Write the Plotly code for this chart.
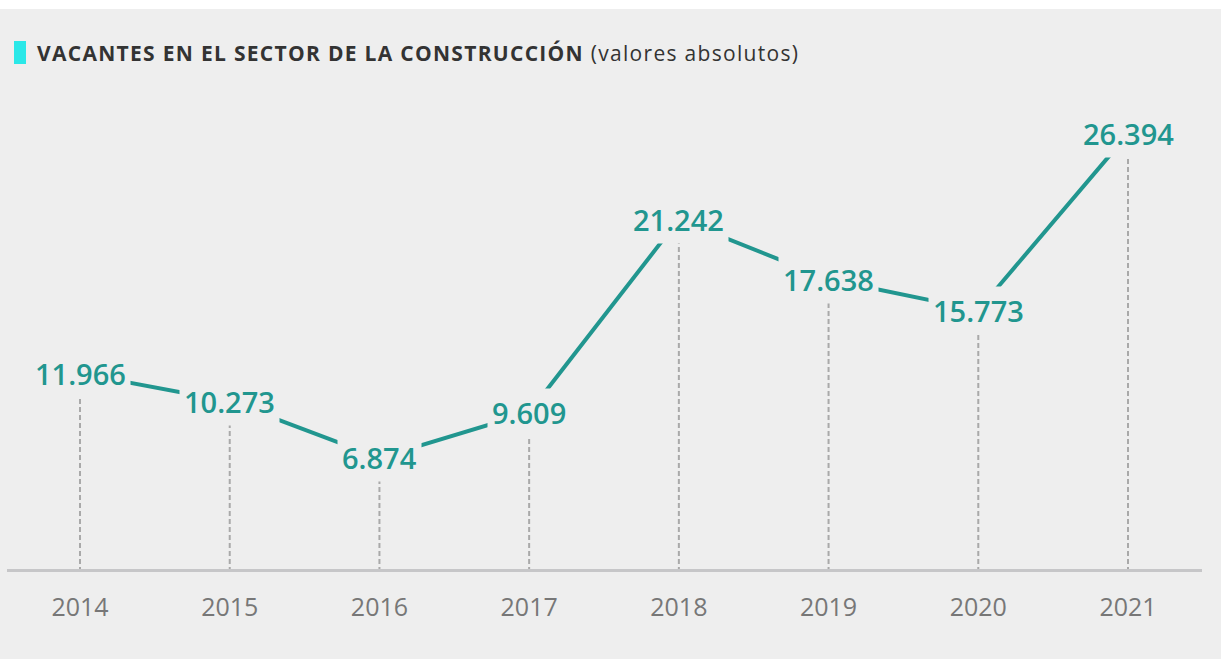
import plotly.graph_objects as go

years = [2014, 2015, 2016, 2017, 2018, 2019, 2020, 2021]
vacantes = [11966, 10273, 6874, 9609, 21242, 17638, 15773, 26394]
year_labels = [str(y) for y in years]

title_bold = "VACANTES EN EL SECTOR DE LA CONSTRUCCIÓN"
title_rest = "(valores absolutos)"

BG = "#eeeeee"
TEAL = "#21968f"

def fmt(v):
    return f"{v:,}".replace(",", ".")

fig = go.Figure()

fig.add_trace(go.Scatter(
    x=years, y=vacantes, mode="lines",
    line=dict(color=TEAL, width=4),
    hoverinfo="skip", showlegend=False,
))

# dashed drop lines
for x, v in zip(years, vacantes):
    fig.add_shape(type="line", xref="x", yref="y", x0=x, x1=x, y0=0, y1=v,
                  line=dict(color="#a9a9a9", width=2, dash="5px,3px"), layer="below")

# value labels
for x, v in zip(years, vacantes):
    fig.add_annotation(x=x, y=v, xref="x", yref="y", text=fmt(v), showarrow=False,
                       xanchor="center", yanchor="middle",
                       font=dict(family="Open Sans", size=29, color=TEAL, weight=600),
                       bgcolor=BG, borderpad=4)

plot_h = 560
plot_w = 1195

# white strip on top
fig.add_shape(type="rect", xref="paper", yref="paper",
              x0=-10 / plot_w, x1=1 + 30 / plot_w, y0=1, y1=1 + 10 / plot_h,
              fillcolor="white", line=dict(width=0), layer="above")

# title marker
fig.add_shape(type="rect", xref="paper", yref="paper",
              x0=(14 - 7) / plot_w, x1=(26 - 7) / plot_w,
              y0=1 - (64 - 9) / plot_h, y1=1 - (41 - 9) / plot_h,
              fillcolor="#2ae8e8", line=dict(width=0), layer="above")

fig.add_annotation(xref="paper", yref="paper", x=(418 - 7) / plot_w, y=1 - (53 - 9) / plot_h,
                   xanchor="center", yanchor="middle", showarrow=False,
                   text=f"<b>{title_bold}</b> {title_rest}",
                   font=dict(family="Open Sans", size=21, color="#333333"))

px_per_unit = 16.6 / 1000
y_bottom = 3 / px_per_unit
y_top = y_bottom + plot_h / px_per_unit

x_px = 149.71
x_left = 2014 - (80 - 7) / x_px
x_right = 2021 + (1202 - 1128) / x_px

fig.update_layout(
    width=1221, height=659,
    margin=dict(l=7, r=19, t=9, b=90),
    paper_bgcolor=BG, plot_bgcolor=BG,
    showlegend=False,
    xaxis=dict(range=[x_left, x_right], tickvals=years, ticktext=year_labels,
               showgrid=False, zeroline=False, showline=True, linecolor="#c6c6c8",
               linewidth=3, ticks="", ticklabelstandoff=14,
               tickfont=dict(family="Open Sans", size=25, color="#777777")),
    yaxis=dict(range=[y_bottom, y_top], visible=False, showgrid=False, zeroline=False),
)

post = (
    "document.body.style.margin='0';"
    "var g=document.getElementById('{plot_id}');"
    "g.querySelectorAll('.annotation-text').forEach(function(t){"
    "if(t.textContent.indexOf('VACANTES')>=0){t.style.letterSpacing='1.3px';}"
    "});"
)

fig.write_html("out.html", post_script=post, config={"displayModeBar": False})
